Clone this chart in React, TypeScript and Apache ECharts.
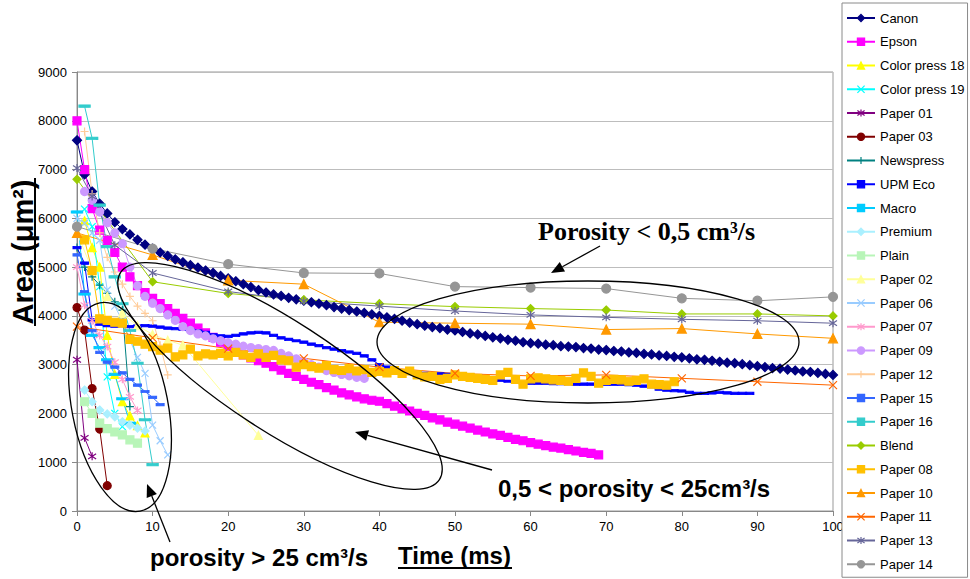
import React, { useEffect, useRef } from "react";
import * as echarts from "echarts";

// ---------- data ----------
const xTicks = [0, 10, 20, 30, 40, 50, 60, 70, 80, 90, 100];
const yTicks = [0, 1000, 2000, 3000, 4000, 5000, 6000, 7000, 8000, 9000];

// dense series: values at 1 ms steps
const canonY = [7600,6900,6550,6300,6100,5920,5780,5670,5560,5460,5380,5300,5230,5160,5100,5040,4990,4930,4880,4820,4770,4710,4650,4590,4530,4480,4440,4410,4370,4340,4310,4280,4250,4220,4180,4150,4120,4090,4060,4030,4000,3970,3940,3900,3860,3830,3800,3770,3750,3720,3700,3670,3640,3620,3590,3560,3540,3510,3490,3460,3440,3430,3410,3400,3380,3370,3360,3340,3330,3310,3300,3280,3270,3250,3240,3220,3210,3190,3180,3160,3150,3130,3110,3100,3080,3060,3040,3030,3010,2990,2970,2950,2930,2920,2900,2880,2860,2850,2830,2810,2790];
const epsonY = [8000,7000,6200,5760,5550,5300,5000,4800,4620,4480,4360,4250,4150,4050,3950,3850,3750,3650,3560,3460,3380,3290,3200,3140,3080,3030,2960,2890,2820,2760,2700,2640,2590,2530,2480,2420,2380,2340,2300,2270,2250,2200,2150,2100,2050,2000,1960,1910,1870,1820,1780,1740,1700,1660,1620,1580,1550,1510,1470,1440,1400,1370,1340,1310,1290,1260,1230,1200,1180,1150];
const upmEcoY = [5400,5080,3920,3830,3800,3790,3800,3780,3790,3800,3790,3770,3750,3740,3730,3710,3690,3660,3610,3590,3580,3600,3630,3650,3660,3650,3600,3550,3520,3490,3460,3420,3390,3350,3320,3290,3260,3230,3180,3100,3000,2950,2880,2850,2840,2830,2820,2810,2810,2800,2800,2790,2780,2770,2720,2700,2680,2660,2640,2630,2620,2620,2620,2610,2610,2610,2600,2600,2600,2600,2600,2600,2600,2590,2580,2560,2550,2500,2480,2470,2460,2430,2410,2410,2420,2430,2420,2410,2410,2410];
const paper08Y = [5560,4930,3940,3910,3870,3850,3520,3480,3420,3370,3300,3340,3160,3200,3320,3180,3220,3200,3230,3180,3250,3200,3150,3220,3150,3190,3100,3080,2950,3000,2960,2930,2980,2900,2880,2920,2870,2900,2840,2860,2830,2880,2820,2870,2790,2750,2760,2700,2720,2790,2760,2740,2720,2700,2680,2790,2840,2700,2600,2710,2730,2710,2690,2680,2660,2720,2830,2760,2620,2680,2700,2690,2660,2680,2710,2600,2590,2580,2650];
const paper09Y = [6550,6370,6130,5910,5700,5480,5000,4620,4400,4260,4150,4020,3910,3780,3700,3630,3590,3530,3490,3450,3420,3380,3350,3330,3310,3290,3230,3180,3120,3060,3000,2950,2880,2840,2800,2770,2740,2720];

// sparse series: [time ms, area]
const colorPress18 = [[1,5950],[2,5400],[3,5000],[4,3600],[5,2800],[6,2240],[7,1950],[8,1750],[9,1600]];
const colorPress19 = [[1,6190],[2,5830],[3,4600],[4,2750],[5,2000],[6,1730]];
const paper01 = [[0,3100],[1,1500],[2,1120]];
const paper03 = [[0,4170],[1,3710],[2,2510],[3,1680],[4,520]];
const newspress = [[0,5400],[1,5000],[2,4800],[3,4630],[4,4460],[5,4290],[6,4120],[7,2140]];
const macro = [[0,6130],[1,4450],[2,3600],[3,3350],[4,3100],[5,2800],[6,2300],[7,1800]];
const premium = [[1,2480],[2,2240],[3,2070],[4,1990],[5,1930],[6,1830],[7,1760],[8,1700],[9,1640]];
const plain = [[1,2240],[2,2000],[3,1800],[4,1690],[5,1620],[6,1560],[7,1460],[8,1390]];
const paper02 = [[0,5700],[2,4950],[4,4400],[6,4050],[8,3800],[10,3620],[12,3500],[14,3400],[24,1550]];
const paper06 = [[0,6000],[1,5900],[2,5700],[3,5550],[4,4530],[5,4200],[6,3900],[7,3500],[8,3150],[9,2820],[10,1760],[11,1440],[12,1150]];
const paper07 = [[0,5000],[1,4220],[2,3900],[3,3600],[4,3370],[5,3050],[6,2700],[7,2340],[8,2060]];
const paper12 = [[1,7780],[2,6500],[3,5700],[4,5200],[5,4900],[6,4650],[7,4400],[8,4200],[9,4050],[10,3900],[11,3400],[12,2790]];
const paper15 = [[0,5250],[1,4500],[2,3700],[3,3250],[4,3050],[5,2950],[6,2830],[7,2700],[8,2580],[9,2450],[10,2330],[11,2180]];
const paper16 = [[1,8300],[2,7640],[3,6270],[4,5420],[5,4800],[6,4250],[7,3700],[8,3030],[9,1870],[10,950]];
const blend = [[0,6800],[10,4700],[20,4460],[30,4330],[40,4250],[50,4190],[60,4150],[70,4120],[80,4040],[90,4040],[100,4000]];
const paper10 = [[0,5700],[10,5250],[20,4730],[30,4650],[40,3870],[50,3850],[60,3830],[70,3720],[80,3740],[90,3630],[100,3540]];
const paper11 = [[0,3780],[10,3550],[20,3330],[30,3130],[40,2950],[50,2820],[60,2770],[70,2790],[80,2720],[90,2650],[100,2580]];
const paper13 = [[0,7030],[2,6450],[5,5450],[10,4880],[20,4500],[30,4300],[40,4200],[50,4100],[60,4020],[70,3970],[80,3930],[90,3900],[100,3850]];
const paper14 = [[0,5830],[10,5380],[20,5060],[30,4880],[40,4870],[50,4600],[60,4580],[70,4560],[80,4360],[90,4310],[100,4390]];

const seq = (start: number, ys: number[]) => ys.map((y, i) => [start + i, y]);

// ---------- symbols ----------
const SX = "path://M0,0L10,10M10,0L0,10";
const SSTAR = "path://M0,1L10,9M10,1L0,9M5,-1L5,11";
const SPLUS = "path://M5,0L5,10M0,5L10,5";

type SDef = { name: string; color: string; data: number[][]; symbol: string; size: any };

const seriesDefs: SDef[] = [
  { name: "Canon", color: "#000080", data: seq(0, canonY), symbol: "diamond", size: 9 },
  { name: "Epson", color: "#FF00FF", data: seq(0, epsonY), symbol: "rect", size: 8 },
  { name: "Color press 18", color: "#FFFF00", data: colorPress18, symbol: "triangle", size: 8 },
  { name: "Color press 19", color: "#00FFFF", data: colorPress19, symbol: SX, size: 7 },
  { name: "Paper 01", color: "#800080", data: paper01, symbol: SSTAR, size: 8 },
  { name: "Paper 03", color: "#800000", data: paper03, symbol: "circle", size: 8 },
  { name: "Newspress", color: "#008080", data: newspress, symbol: SPLUS, size: 8 },
  { name: "UPM Eco", color: "#0000FF", data: seq(0, upmEcoY), symbol: "rect", size: [7, 2.5] },
  { name: "Macro", color: "#00CCFF", data: macro, symbol: "rect", size: [10, 2.5] },
  { name: "Premium", color: "#aaf0ff", data: premium, symbol: "diamond", size: 8 },
  { name: "Plain", color: "#b8f5b8", data: plain, symbol: "rect", size: 8 },
  { name: "Paper 02", color: "#FFFF99", data: paper02, symbol: "triangle", size: 8 },
  { name: "Paper 06", color: "#99CCFF", data: paper06, symbol: SX, size: 7 },
  { name: "Paper 07", color: "#FF99CC", data: paper07, symbol: SSTAR, size: 8 },
  { name: "Paper 09", color: "#CC99FF", data: seq(1, paper09Y), symbol: "circle", size: 8 },
  { name: "Paper 12", color: "#FFCC99", data: paper12, symbol: SPLUS, size: 8 },
  { name: "Paper 15", color: "#3366FF", data: paper15, symbol: "rect", size: [7, 2.5] },
  { name: "Paper 16", color: "#33CCCC", data: paper16, symbol: "rect", size: [10, 2.5] },
  { name: "Blend", color: "#99CC00", data: blend, symbol: "diamond", size: 8 },
  { name: "Paper 08", color: "#FFC000", data: seq(1, paper08Y), symbol: "rect", size: 8 },
  { name: "Paper 10", color: "#FF9900", data: paper10, symbol: "triangle", size: 9 },
  { name: "Paper 11", color: "#FF6600", data: paper11, symbol: SX, size: 8 },
  { name: "Paper 13", color: "#666699", data: paper13, symbol: SSTAR, size: 8 },
  { name: "Paper 14", color: "#969696", data: paper14, symbol: "circle", size: 9 },
];

function arrow(x1: number, y1: number, x2: number, y2: number) {
  const dx = x2 - x1, dy = y2 - y1, L = Math.hypot(dx, dy);
  const ux = dx / L, uy = dy / L;
  const hl = 13, hw = 5.5;
  const bx = x2 - ux * hl, by = y2 - uy * hl;
  return [
    { type: "line", z: 100, shape: { x1, y1, x2: bx, y2: by }, style: { stroke: "#000", lineWidth: 1.3 } },
    {
      type: "polygon",
      z: 100,
      shape: { points: [[x2, y2], [bx - uy * hw, by + ux * hw], [bx + uy * hw, by - ux * hw]] },
      style: { fill: "#000" },
    },
  ];
}

const SANS = '"Liberation Sans", Arial, sans-serif';
const SERIF = '"Liberation Serif", "Times New Roman", serif';

export default function App() {
  const ref = useRef<HTMLDivElement>(null);
  useEffect(() => {
    if (!ref.current) return;
    const chart = echarts.init(ref.current, null, { renderer: "svg" });
    const deg = Math.PI / 180;
    const option: any = {
      animation: false,
      backgroundColor: "#fff",
      grid: { left: 77, right: 137, top: 72, bottom: 68, show: true, borderColor: "#999", borderWidth: 1 },
      xAxis: {
        type: "value",
        min: xTicks[0],
        max: xTicks[xTicks.length - 1],
        interval: 10,
        axisLine: { show: true, lineStyle: { color: "#888" } },
        axisTick: { show: true, length: 5, lineStyle: { color: "#888" } },
        axisLabel: { color: "#000", fontSize: 13, fontFamily: SANS, margin: 9, formatter: (v: number) => (xTicks.includes(v) ? String(v) : "") },
        splitLine: { show: false },
      },
      yAxis: {
        type: "value",
        min: yTicks[0],
        max: yTicks[yTicks.length - 1],
        interval: 1000,
        axisLine: { show: true, lineStyle: { color: "#888" } },
        axisTick: { show: true, length: 5, lineStyle: { color: "#888" } },
        axisLabel: { color: "#000", fontSize: 13, fontFamily: SANS, margin: 10, formatter: (v: number) => (yTicks.includes(v) ? String(v) : "") },
        splitLine: { show: true, lineStyle: { color: "#bdbdbd", width: 1 } },
      },
      legend: {
        orient: "vertical",
        left: 842,
        top: 3,
        padding: [8, 3, 6, 4],
        itemWidth: 28,
        itemHeight: 9,
        itemGap: 9.75,
        borderColor: "#8a8a8a",
        borderWidth: 1,
        backgroundColor: "#fff",
        textStyle: { color: "#000", fontSize: 13, fontFamily: SANS, lineHeight: 14 },
        itemStyle: { borderWidth: 1.2, borderColor: "inherit" },
        data: seriesDefs.map((s) => s.name),
      },
      series: seriesDefs.map((s) => ({
        name: s.name,
        type: "line",
        data: s.data,
        symbol: s.symbol,
        symbolSize: s.size,
        showSymbol: true,
        showAllSymbol: true,
        lineStyle: { color: s.color, width: 1 },
        itemStyle: { color: s.color, borderColor: s.color, borderWidth: 1.2 },
        emphasis: { disabled: true },
      })),
      graphic: [
        // ellipses
        { type: "ellipse", z: 100, x: 588, y: 342, shape: { cx: 0, cy: 0, rx: 211, ry: 61 }, style: { fill: "none", stroke: "#000", lineWidth: 1.3 } },
        { type: "ellipse", z: 100, x: 280, y: 376, rotation: -33 * deg, shape: { cx: 0, cy: 0, rx: 190, ry: 55 }, style: { fill: "none", stroke: "#000", lineWidth: 1.3 } },
        { type: "ellipse", z: 100, x: 120, y: 407, rotation: 11 * deg, shape: { cx: 0, cy: 0, rx: 48, ry: 106 }, style: { fill: "none", stroke: "#000", lineWidth: 1.3 } },
        ...arrow(600, 246, 551, 273),
        ...arrow(492, 470, 355, 432),
        ...arrow(170, 542, 147, 484),
        // annotation texts
        { type: "text", z: 100, style: { text: "Porosity < 0,5 cm³/s", x: 538, y: 231, font: `bold 26px ${SERIF}`, fill: "#000", verticalAlign: "middle", textAlign: "left" } },
        { type: "text", z: 100, style: { text: "0,5 < porosity < 25cm³/s", x: 498, y: 488, font: `bold 24px ${SANS}`, fill: "#000", verticalAlign: "middle", textAlign: "left" } },
        { type: "text", z: 100, style: { text: "porosity > 25 cm³/s", x: 150, y: 557, font: `bold 24px ${SANS}`, fill: "#000", verticalAlign: "middle", textAlign: "left" } },
        // axis titles
        { type: "text", z: 100, style: { text: "Time (ms)", x: 398, y: 555, font: `bold 24px ${SANS}`, fill: "#000", verticalAlign: "middle", textAlign: "left" } },
        { type: "line", z: 100, shape: { x1: 398, y1: 568, x2: 512, y2: 568 }, style: { stroke: "#000", lineWidth: 2 } },
        { type: "text", z: 100, x: 23, y: 252, rotation: 90 * deg, style: { text: "Area (μm²)", x: 0, y: 0, font: `bold 29px ${SANS}`, fill: "#000", verticalAlign: "middle", textAlign: "center" } },
        { type: "line", z: 100, shape: { x1: 35, y1: 178, x2: 35, y2: 326 }, style: { stroke: "#000", lineWidth: 2 } },
      ],
    };
    chart.setOption(option);
    return () => chart.dispose();
  }, []);
  return <div ref={ref} style={{ position: "fixed", left: 0, top: 0, width: 970, height: 579, background: "#fff" }} />;
}
